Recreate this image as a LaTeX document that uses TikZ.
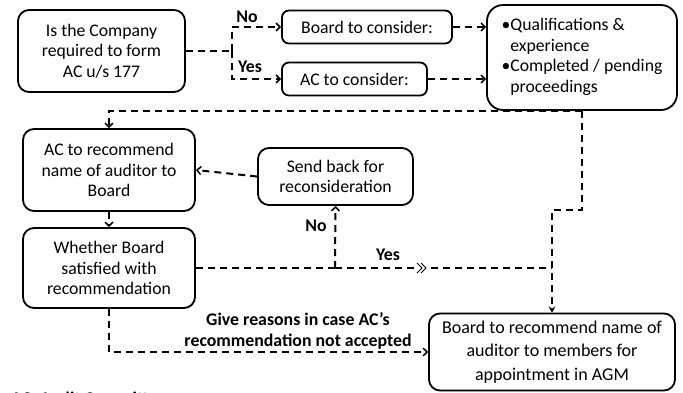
\documentclass[tikz,border=0pt]{standalone}
\usepackage{fontspec}
\setmainfont{Carlito}
\usetikzlibrary{arrows.meta}
\begin{document}
\begin{tikzpicture}[x=1pt,y=-1pt,
  box/.style={draw, line width=1.8pt, rounded corners=11pt, align=center, inner sep=0pt,
    font=\fontsize{17.7}{20.5}\selectfont},
  dl/.style={line width=2pt, dash pattern=on 7pt off 5pt},
  arr/.style={dl, -{Straight Barb[length=4pt,width=8pt,line width=1.5pt]}},
  arrf/.style={dl, -{Stealth[length=6pt,width=7pt]}},
  lbl/.style={font=\fontsize{17.8}{21}\selectfont\bfseries, align=center, inner sep=0pt}]
\useasboundingbox (0,0) rectangle (683,392);

\node[box, minimum width=167pt, minimum height=82pt] (q) at (101.5,51) {Is the Company\\required to form\\AC u/s 177};
\node[box, minimum width=170pt, minimum height=33pt, rounded corners=7pt] (bc) at (367,27) {Board to consider:};
\node[box, minimum width=145pt, minimum height=33pt, rounded corners=7pt] (ac) at (354.5,79) {AC to consider:};
\node[box, minimum width=190pt, minimum height=105pt, rounded corners=16pt, align=left] (crit) at (582,57.5)
  {\begin{tabular}{@{}l@{}l@{}}\textbullet&Qualifications \&\\ &experience\\ \textbullet&Completed / pending\\ &proceedings\end{tabular}};
\node[box, minimum width=172pt, minimum height=82pt] (rec) at (109,170) {AC to recommend\\name of auditor to\\Board};
\node[box, minimum width=155pt, minimum height=57pt] (sb) at (335.5,176.5) {Send back for\\reconsideration};
\node[box, minimum width=172pt, minimum height=80pt] (wb) at (109,268) {Whether Board\\satisfied with\\recommendation};
\node[box, minimum width=246pt, minimum height=77pt, font=\fontsize{18}{23.5}\selectfont] (fin) at (552,352) {Board to recommend name of\\auditor to members for\\appointment in AGM};

\coordinate (j1) at (232,51);
\coordinate (j2) at (582,111);
\coordinate (j3) at (335,268);
\coordinate (j4) at (582,210);
\coordinate (ch) at (420,268);

\draw[dl] (q.east) -- (j1);
\draw[arr] (j1) |- (bc.west);
\draw[arr] (j1) |- (ac.west);
\draw[arr] (bc.east) -- (bc.east -| crit.west);
\draw[arr] (ac.east) -- (ac.east -| crit.west);
\draw[arr] (j2) -| (rec.north);
\draw[arrf] (j2) -- (j4) -| (fin.north);
\draw[arr] (rec.south) -- (wb.north);
\draw[arr] (sb.west) -- (rec.east);
\draw[dl] (wb.east) -- (j3);
\draw[arr] (j3) -- (sb.south);
\draw[dl] (j3) -- (ch -| fin.north);
\draw[arr] (wb.south) |- (fin.west);
\fill[white] ([xshift=-3pt,yshift=-5pt]ch) rectangle ([xshift=6pt,yshift=5pt]ch);
\draw[line width=0.9pt] ([xshift=-3pt,yshift=-5pt]ch) -- ([xshift=2pt]ch) -- ([xshift=-3pt,yshift=5pt]ch)
  ([xshift=1pt,yshift=-5pt]ch) -- ([xshift=6pt]ch) -- ([xshift=1pt,yshift=5pt]ch);

\node[lbl] (lno1) at (247,17) {No};
\node[lbl] (lyes1) at (250,67) {Yes};
\node[lbl] (lno2) at (316,226) {No};
\node[lbl] (lyes2) at (388,255) {Yes};
\node[lbl] (lgr) at (298,331) {Give reasons in case AC’s\\recommendation not accepted};
\node[lbl, anchor=base west] (note) at (11,404) {AC: Audit Committee};
\end{tikzpicture}
\end{document}
